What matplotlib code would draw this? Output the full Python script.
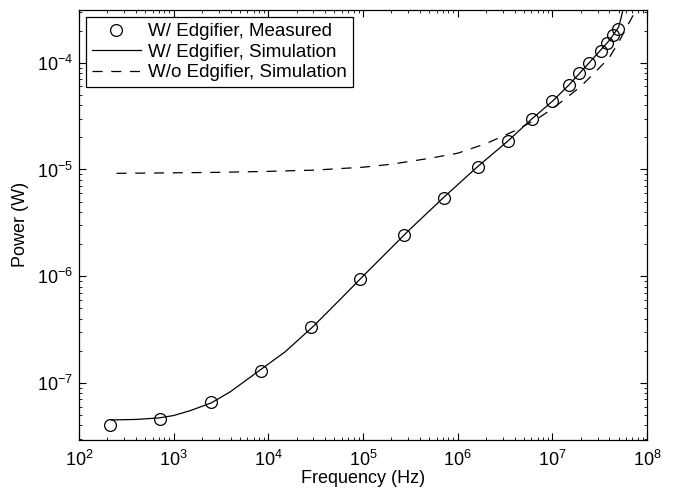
import matplotlib
matplotlib.use('Agg')
import matplotlib.pyplot as plt
from matplotlib.ticker import LogLocator, NullFormatter

plt.rcParams['font.family'] = ['Liberation Sans', 'DejaVu Sans']
plt.rcParams['mathtext.default'] = 'regular'

# Medidas con Edgifier
f_med = [212, 716, 2480, 8350, 28200, 92800, 2.7e5, 7.15e5, 1.63e6, 3.39e6,
         6.07e6, 9.88e6, 1.49e7, 1.9e7, 2.43e7, 3.25e7, 3.76e7, 4.35e7, 4.92e7]
p_med = [4.04e-8, 4.6e-8, 6.6e-8, 1.29e-7, 3.34e-7, 9.4e-7, 2.43e-6, 5.39e-6,
         1.05e-5, 1.84e-5, 2.96e-5, 4.36e-5, 6.16e-5, 7.97e-5, 9.9e-5,
         1.28e-4, 1.52e-4, 1.81e-4, 2.06e-4]

# Simulacion con Edgifier
f_sim = [220, 400, 700, 1000, 1500, 2500, 4000, 8000, 1.5e4, 3e4, 6e4, 1e5,
         3e5, 7e5, 1.6e6, 3.4e6, 6e6, 1e7, 1.5e7, 2e7, 3e7, 4e7, 5e7, 5.3e7, 5.6e7]
p_sim = [4.5e-8, 4.55e-8, 4.7e-8, 4.95e-8, 5.5e-8, 6.5e-8, 8.3e-8, 1.3e-7,
         1.95e-7, 3.4e-7, 6.3e-7, 1.0e-6, 2.65e-6, 5.4e-6, 1.05e-5, 1.85e-5,
         2.95e-5, 4.35e-5, 6.2e-5, 8.2e-5, 1.22e-4, 1.62e-4, 2.15e-4, 2.6e-4, 3.2e-4]

# Simulacion sin Edgifier
f_sin = [250, 500, 1e3, 3e3, 1e4, 3e4, 1e5, 2e5, 5e5, 1e6, 2e6, 4e6, 7e6,
         1e7, 1.5e7, 2e7, 3e7, 4e7, 5e7, 6e7, 7e7, 7.6e7]
p_sin = [9.2e-6, 9.25e-6, 9.3e-6, 9.4e-6, 9.6e-6, 9.85e-6, 1.05e-5, 1.12e-5,
         1.27e-5, 1.42e-5, 1.75e-5, 2.3e-5, 3.0e-5, 3.7e-5, 4.9e-5, 6.0e-5,
         8.6e-5, 1.12e-4, 1.55e-4, 2.1e-4, 2.7e-4, 3.2e-4]

fig = plt.figure(figsize=(6.74, 4.92), dpi=100)
ax = fig.add_axes([0.117, 0.106, 0.843, 0.874])

ax.loglog(f_med, p_med, 'o', mfc='none', mec='black', ms=8.5, mew=0.9,
          label='W/ Edgifier, Measured')
ax.loglog(f_sim, p_sim, '-', color='black', lw=0.9, label='W/ Edgifier, Simulation')
ax.loglog(f_sin, p_sin, '--', color='black', lw=0.9, dashes=(8, 7),
          label='W/o Edgifier, Simulation')

ax.set_xlim(1e2, 1e8)
ax.set_ylim(2.93e-8, 3.13e-4)
ax.xaxis.set_major_locator(LogLocator(base=10, numticks=10))
ax.yaxis.set_major_locator(LogLocator(base=10, numticks=10))
ax.xaxis.set_minor_locator(LogLocator(base=10, subs=range(2, 10), numticks=20))
ax.yaxis.set_minor_locator(LogLocator(base=10, subs=range(2, 10), numticks=20))
ax.xaxis.set_minor_formatter(NullFormatter())
ax.yaxis.set_minor_formatter(NullFormatter())
ax.tick_params(which='both', direction='in', top=True, right=True, labelsize=13)
ax.tick_params(which='major', length=5, width=0.8)
ax.tick_params(which='minor', length=2.5, width=0.6)
ax.tick_params(axis='x', which='major', pad=7)
ax.tick_params(axis='y', which='major', pad=4)
for s in ax.spines.values():
    s.set_linewidth(0.9)

ax.set_xlabel('Frequency (Hz)', fontsize=13, labelpad=0)
ax.set_ylabel('Power (W)', fontsize=13, labelpad=6)

leg = ax.legend(loc='upper left', fontsize=13.5, fancybox=False, edgecolor='black',
                framealpha=1, borderaxespad=0.4, handlelength=2.6, borderpad=0.3,
                labelspacing=0.18, handletextpad=0.4)
leg.get_frame().set_linewidth(0.9)

fig.savefig('out.png', dpi=100)
